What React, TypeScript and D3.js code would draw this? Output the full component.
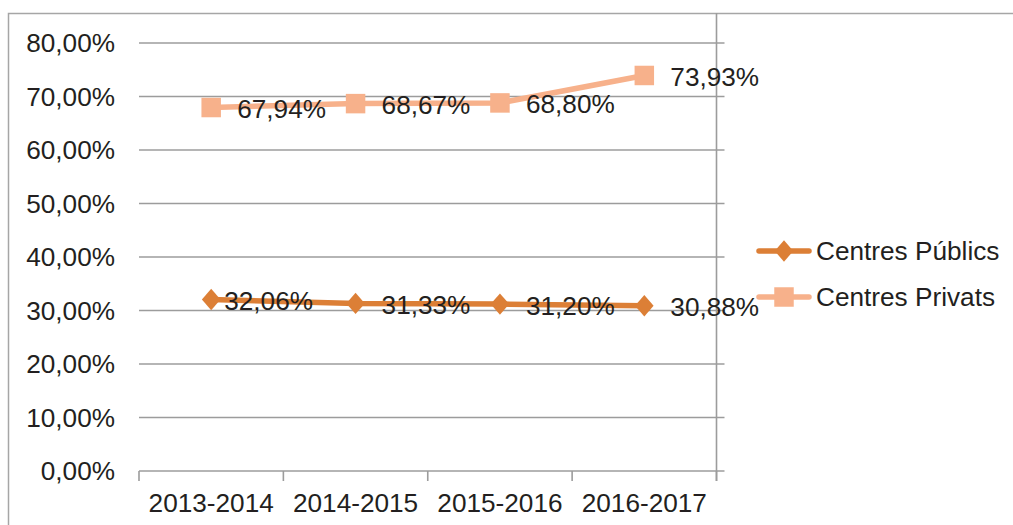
import { useEffect, useRef } from 'react'
import * as d3 from 'd3'

// categories and values
const years = ['2013-2014', '2014-2015', '2015-2016', '2016-2017']
const publics = [32.06, 31.33, 31.2, 30.88]
const privats = [67.94, 68.67, 68.8, 73.93]
const yTicks = [0, 10, 20, 30, 40, 50, 60, 70, 80]
const seriesNames = ['Centres Públics', 'Centres Privats']

const fmt = (v: number) => v.toFixed(2).replace('.', ',') + '%'

export default function App() {
  const ref = useRef<SVGSVGElement>(null)

  useEffect(() => {
    const width = 1013, height = 525
    const left = 139, right = 716.5, top = 43, bottom = 471
    const font = '"Liberation Sans", Arial, sans-serif'
    const fs = '26.2px'

    const svg = d3.select(ref.current)
    svg.selectAll('*').remove()

    // outer frame (only the left and top edges show)
    svg.append('path')
      .attr('d', `M8.5,${height} V13.5 H${width}`)
      .attr('fill', 'none')
      .attr('stroke', '#a6a6a6')
      .attr('stroke-width', 1.5)

    const x = d3.scaleBand().domain(years).range([left, right])
    const y = d3.scaleLinear().domain([0, 80]).range([bottom, top])
    const cx = (d: string) => (x(d) as number) + x.bandwidth() / 2

    // gridlines
    svg.append('g')
      .selectAll('line')
      .data(yTicks)
      .join('line')
      .attr('x1', left)
      .attr('x2', right + 8)
      .attr('y1', d => y(d))
      .attr('y2', d => y(d))
      .attr('stroke', '#9c9c9c')
      .attr('stroke-width', 1.6)

    // y labels
    svg.append('g')
      .selectAll('text')
      .data(yTicks)
      .join('text')
      .attr('x', 115)
      .attr('y', d => y(d))
      .attr('dy', '0.36em')
      .attr('text-anchor', 'end')
      .style('font-family', font)
      .style('font-size', fs)
      .attr('fill', '#231f20')
      .text(d => fmt(d))

    // vertical line on the right side of the plot
    svg.append('line')
      .attr('x1', right).attr('x2', right)
      .attr('y1', 13).attr('y2', bottom + 10)
      .attr('stroke', '#9c9c9c')
      .attr('stroke-width', 1.6)

    // x tick marks
    const edges = years.map(d => x(d) as number).concat([right])
    svg.append('g')
      .selectAll('line')
      .data(edges)
      .join('line')
      .attr('x1', d => d).attr('x2', d => d)
      .attr('y1', bottom).attr('y2', bottom + 10)
      .attr('stroke', '#9c9c9c')
      .attr('stroke-width', 1.6)

    svg.append('g')
      .selectAll('text')
      .data(years)
      .join('text')
      .attr('x', d => cx(d))
      .attr('y', 503)
      .attr('dy', '0.36em')
      .attr('text-anchor', 'middle')
      .style('font-family', font)
      .style('font-size', fs)
      .attr('fill', '#231f20')
      .text(d => d)

    const series = [
      { name: seriesNames[0], values: publics, color: '#dc7f36', marker: 'diamond', labelDx: [13, 26, 26, 26] },
      { name: seriesNames[1], values: privats, color: '#f7b18b', marker: 'square', labelDx: [26, 26, 26, 26] },
    ]

    const diamond = d3.symbol().type(d3.symbolDiamond2).size(220)
    const square = d3.symbol().type(d3.symbolSquare).size(380)

    const line = d3.line<number>()
      .x((_, i) => cx(years[i]))
      .y(d => y(d))

    series.forEach((s, si) => {
      const g = svg.append('g')
      g.append('path')
        .attr('d', line(s.values))
        .attr('fill', 'none')
        .attr('stroke', s.color)
        .attr('stroke-width', 5.5)
        .attr('stroke-linejoin', 'round')

      g.selectAll('path.mk')
        .data(s.values)
        .join('path')
        .attr('class', 'mk')
        .attr('d', s.marker === 'diamond' ? diamond() : square())
        .attr('transform', (d, i) => `translate(${cx(years[i])},${y(d)})` + (s.marker === 'diamond' ? ' scale(1,1.15)' : ''))
        .attr('fill', s.color)

      g.selectAll('text')
        .data(s.values)
        .join('text')
        .attr('x', (d, i) => cx(years[i]) + s.labelDx[i])
        .attr('y', d => y(d) + 1)
        .attr('dy', '0.36em')
        .style('font-family', font)
        .style('font-size', fs)
        .attr('fill', '#231f20')
        .text(d => fmt(d))

      // legend
      const ly = 251 + si * 46
      const lg = svg.append('g')
      lg.append('line')
        .attr('x1', 759).attr('x2', 809)
        .attr('y1', ly).attr('y2', ly)
        .attr('stroke', s.color)
        .attr('stroke-width', 5.5)
        .attr('stroke-linecap', 'round')
      lg.append('path')
        .attr('d', s.marker === 'diamond' ? diamond() : square())
        .attr('transform', `translate(784,${ly})` + (s.marker === 'diamond' ? ' scale(1,1.15)' : ''))
        .attr('fill', s.color)
      lg.append('text')
        .attr('x', 816)
        .attr('y', ly)
        .attr('dy', '0.36em')
        .style('font-family', font)
        .style('font-size', fs)
        .attr('fill', '#231f20')
        .text(s.name)
    })
  }, [])

  return (
    <svg ref={ref} width={1013} height={525}
      style={{ position: 'absolute', left: 0, top: 0, background: '#fff' }} />
  )
}
